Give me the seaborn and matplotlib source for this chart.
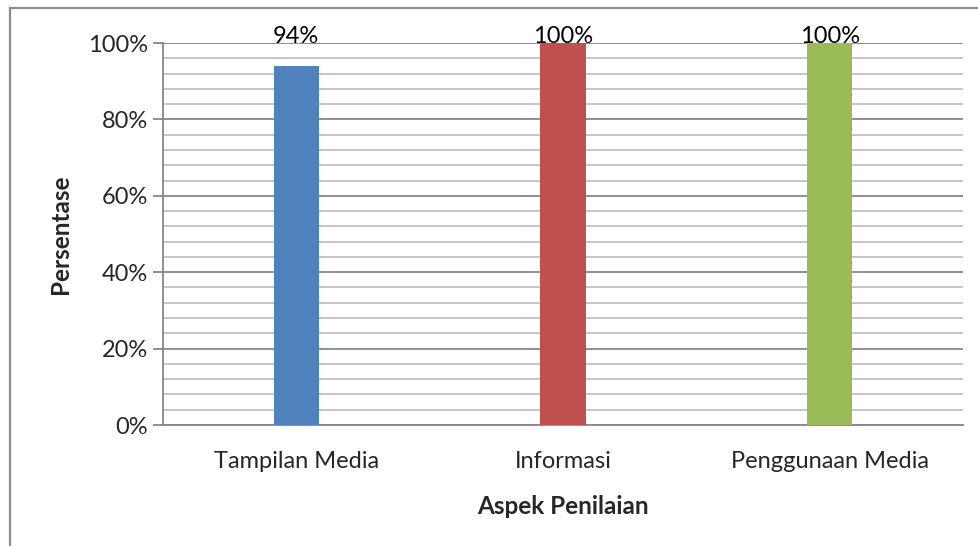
import pandas as pd
import matplotlib.pyplot as plt
import seaborn as sns
from matplotlib.patches import Rectangle
from matplotlib.ticker import MultipleLocator, PercentFormatter

# data
aspek = ["Tampilan Media", "Informasi", "Penggunaan Media"]
persen = [0.94, 1.00, 1.00]
warna = ["#4F81BD", "#C0504D", "#9BBB59"]

df = pd.DataFrame({"Aspek": aspek, "Persen": persen})

sns.set_style("white")
plt.rcParams["font.family"] = ["Lato", "DejaVu Sans"]

fig = plt.figure(figsize=(9.79, 5.46), dpi=100)
ax = fig.add_axes([163 / 979, 1 - 425 / 546, 800 / 979, 382 / 546])

# chart frame like the Excel chart area
fig.patches.append(Rectangle((10 / 979, -0.1), 1.1, 1 - 8 / 546 + 0.1,
                             transform=fig.transFigure, fill=False,
                             edgecolor="#8c8c8c", linewidth=1.6, zorder=0))

sns.barplot(data=df, x="Aspek", y="Persen", hue="Aspek", palette=warna,
            width=0.17, legend=False, saturation=1, linewidth=0, ax=ax, zorder=3)

ax.set_ylim(0, 1.0)
ax.set_xlim(-0.5, 2.5)
ax.yaxis.set_major_locator(MultipleLocator(0.2))
ax.yaxis.set_minor_locator(MultipleLocator(0.04))
ax.yaxis.set_major_formatter(PercentFormatter(1.0, decimals=0))
ax.grid(axis="y", which="major", color="#868686", linewidth=1.3, zorder=1)
ax.grid(axis="y", which="minor", color="#c0c0c0", linewidth=1.3, zorder=1)
ax.set_axisbelow(True)

for s in ["top", "right"]:
    ax.spines[s].set_visible(False)
ax.spines["left"].set_color("#868686")
ax.spines["bottom"].set_color("#868686")
ax.spines["left"].set_linewidth(1.3)
ax.spines["bottom"].set_linewidth(1.3)

ax.tick_params(axis="y", which="major", length=7, width=1.3, color="#868686",
               pad=4, labelsize=17, left=True)
ax.tick_params(axis="y", which="minor", length=0)
ax.tick_params(axis="x", length=0, pad=19, labelsize=17)

for i, v in enumerate(persen):
    ax.text(i, 1.0, f"{v:.0%}", ha="center", va="baseline", fontsize=17,
            color="black", clip_on=False, zorder=5)

ax.set_xlabel("Aspek Penilaian", fontsize=17.5, fontweight="bold", labelpad=16)
ax.set_ylabel("Persentase", fontsize=17.5, fontweight="bold", labelpad=11)

fig.savefig("out.png", dpi=100)
